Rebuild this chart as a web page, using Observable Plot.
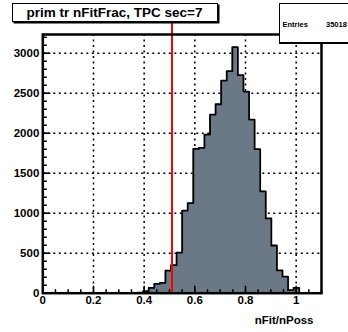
<!DOCTYPE html>
<html>
<head>
<meta charset="utf-8">
<script src="https://cdn.jsdelivr.net/npm/d3@7"></script>
<script src="https://cdn.jsdelivr.net/npm/@observablehq/plot@0.6"></script>
<style>
  body { margin: 0; background: #fff; font-family: "Liberation Sans", Arial, sans-serif; }
  #wrap { position: relative; width: 348px; height: 332px; overflow: hidden; background: #fff; }
  #wrap svg { position: absolute; left: 0; top: 0; }
  .title { position: absolute; left: 11.5px; top: 2.5px; width: 204px; height: 17px; border: 1px solid #000;
           box-shadow: 1.5px 1.5px 0 #000; background: #fff; font-weight: bold; font-size: 13.5px;
           text-align: center; line-height: 18px; color: #000; white-space: nowrap; }
  .stats { position: absolute; left: 279px; top: 2.5px; width: 80px; height: 38.5px; border: 1px solid #000;
           box-shadow: 0 1px 0 #000; background: #fff; font-weight: bold; font-size: 7.5px; color: #000; }
  .stats .k { position: absolute; left: 2.5px; top: 16px; }
  .stats .v { position: absolute; left: 46px; top: 16px; }
</style>
</head>
<body>
<div id="wrap">
  <div id="chart"></div>
  <div class="title">prim tr nFitFrac, TPC sec=7</div>
  <div class="stats"><span class="k">Entries</span><span class="v">35018</span></div>
</div>
<script>
// Histogram definition (50 bins from 0 to 1.1) and bin contents
const histLow = 0;
const histHigh = 1.1;
const counts = [
  0, 0, 0, 0, 0, 0, 0, 0, 0, 0,
  0, 0, 0, 0, 0, 0, 0, 8, 25, 67,
  117, 130, 283, 350, 508, 1033, 1125, 1804, 1817, 1983,
  2233, 2362, 2658, 2775, 3075, 2725, 2521, 2171, 1800, 1273,
  935, 596, 285, 208, 38, 67, 0, 0, 0, 0
];
const entries = 35018;
// cut line (TLine) drawn on the histogram
const cutX = 0.51;
const cutYTop = 3400;
// axis ranges and tick values
const yMax = 3234;
const xMajor = [0, 0.2, 0.4, 0.6, 0.8, 1];
const xMinor = d3.range(0, 1.1001, 0.05).map(v => +v.toFixed(2));
const yMajor = [0, 500, 1000, 1500, 2000, 2500, 3000];
const yMinor = d3.range(0, 3201, 100);
const xTitle = "nFit/nPoss";

const nb = counts.length;
const bins = counts.map((c, i) => ({x: histLow + i * (histHigh - histLow) / nb, y: c}));
bins.push({x: histHigh, y: 0});

const font = "'Liberation Sans', Arial, sans-serif";
const chart = Plot.plot({
  width: 348,
  height: 332,
  marginLeft: 42.3,
  marginRight: 27,
  marginTop: 34,
  marginBottom: 39.3,
  style: {fontFamily: font, color: "#000", background: "transparent"},
  x: {domain: [histLow, histHigh], axis: null},
  y: {domain: [0, yMax], axis: null},
  marks: [
    Plot.gridY(yMajor.filter(v => v > 0), {stroke: "#000", strokeOpacity: 1, strokeWidth: 1.5, strokeDasharray: "2,3.5"}),
    Plot.gridX(xMajor.filter(v => v > 0), {stroke: "#000", strokeOpacity: 1, strokeWidth: 1.5, strokeDasharray: "2,3.5"}),
    Plot.areaY(bins, {x: "x", y: "y", curve: "step-after", fill: "#6b7885"}),
    Plot.lineY(bins, {x: "x", y: "y", curve: "step-after", stroke: "#000", strokeWidth: 1.8}),
    Plot.ruleX([cutX], {y1: 0, y2: cutYTop, stroke: "#ff0000", strokeWidth: 2}),
    Plot.vectorY(yMinor, {frameAnchor: "left", rotate: 90, length: 3.5, anchor: "start", shape: "spike", r: 0, stroke: "#000", strokeWidth: 1.5}),
    Plot.vectorY(yMajor, {frameAnchor: "left", rotate: 90, length: 7, anchor: "start", shape: "spike", r: 0, stroke: "#000", strokeWidth: 1.5}),
    Plot.vectorX(xMinor, {frameAnchor: "bottom", rotate: 0, length: 3.5, anchor: "start", shape: "spike", r: 0, stroke: "#000", strokeWidth: 1.5}),
    Plot.vectorX(xMajor, {frameAnchor: "bottom", rotate: 0, length: 7, anchor: "start", shape: "spike", r: 0, stroke: "#000", strokeWidth: 1.5}),
    Plot.frame({stroke: "#000", strokeWidth: 2.5}),
    Plot.axisY(yMajor, {tickSize: 0, tickPadding: 3.5, fontWeight: "bold", fontSize: 11.5, tickFormat: d => String(d), label: null}),
    Plot.axisX(xMajor, {tickSize: 0, tickPadding: 2.5, fontWeight: "bold", fontSize: 11.5, tickFormat: d => String(d), label: null}),
    Plot.text([xTitle], {text: d => d, frameAnchor: "bottom-right", dx: -8, dy: 27.3, textAnchor: "end", lineAnchor: "middle", fontWeight: "bold", fontSize: 11.5})
  ]
});
document.getElementById("chart").appendChild(chart);
</script>
</body>
</html>
